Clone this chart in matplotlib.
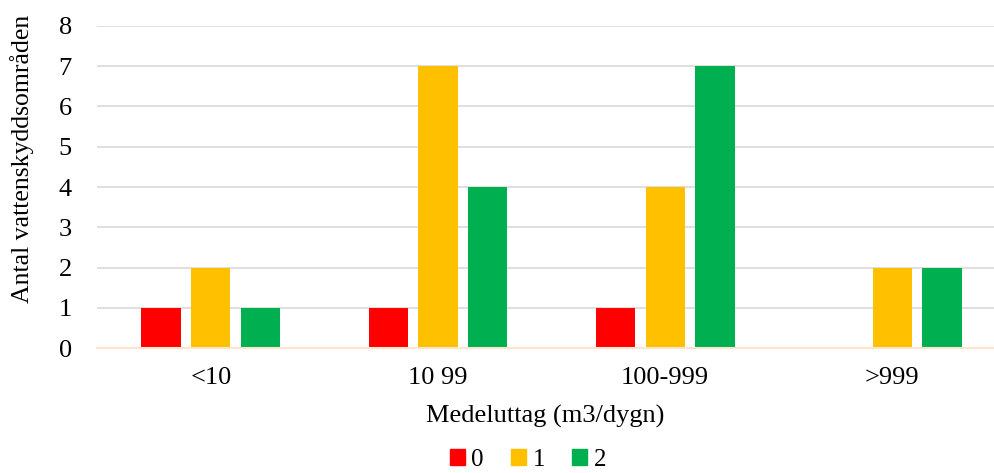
import matplotlib
matplotlib.use("Agg")
import matplotlib.pyplot as plt
from matplotlib.patches import Patch
import numpy as np

categories = ["<10", "10 99", "100-999", ">999"]
series_names = ["0", "1", "2"]
values_0 = [1, 1, 1, 0]
values_1 = [2, 7, 4, 2]
values_2 = [1, 4, 7, 2]
colors = ["#FF0000", "#FFC000", "#00B050"]

plt.rcParams["font.family"] = ["Liberation Serif", "DejaVu Serif"]

fig = plt.figure(figsize=(9.94, 4.73), dpi=100)
ax = fig.add_axes([97 / 994, 125 / 473, 897 / 994, 322 / 473])

x = np.arange(len(categories))
width = 0.172
offset = 0.22
for i, (vals, col, name) in enumerate(zip([values_0, values_1, values_2], colors, series_names)):
    ax.bar(x + (i - 1) * offset, vals, width=width, color=col, label=name, zorder=3)

ax.set_xlim(-0.502, 3.449)
ax.set_ylim(0, 8)
ax.set_yticks(range(0, 9))
ax.set_xticks(x)
ax.set_xticklabels(categories)
ax.grid(axis="y", color="#D9D9D9", linewidth=1.2, zorder=0)
for s in ["top", "right", "left"]:
    ax.spines[s].set_visible(False)
ax.spines["bottom"].set_color("#FBE5CC")
ax.spines["bottom"].set_linewidth(1.5)
ax.spines["bottom"].set_zorder(4)
ax.tick_params(axis="both", length=0, labelsize=19)
ax.tick_params(axis="x", pad=14)
ax.tick_params(axis="y", pad=18)

ax.set_xlabel("Medeluttag (m3/dygn)", fontsize=19, labelpad=11)
ax.set_ylabel("Antal vattenskyddsområden", fontsize=18.5)
ax.yaxis.set_label_coords(-0.070, 0.587)

handles = [Patch(color=c, label=n) for c, n in zip(colors, series_names)]
fig.legend(handles=handles, loc="center", bbox_to_anchor=(528 / 994, 1 - 460 / 473),
           ncol=3, frameon=False, fontsize=18, handlelength=0.6, handleheight=0.6,
           handletextpad=0.25, columnspacing=1.1, borderpad=0.2)

fig.savefig("out.png", dpi=100)
